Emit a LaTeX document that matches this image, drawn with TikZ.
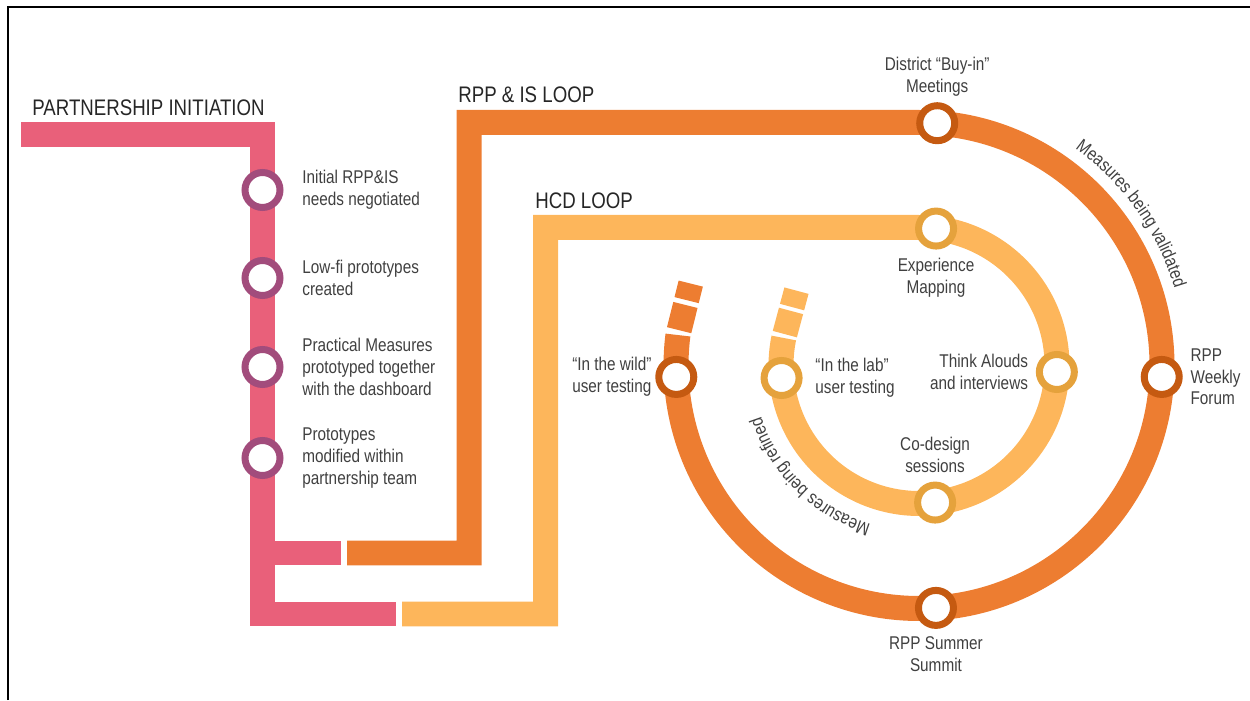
\documentclass[tikz,border=0pt]{standalone}
\usepackage{fontspec}
\setmainfont{Liberation Sans}[FakeStretch=0.83]
\usetikzlibrary{positioning,decorations.text}

\definecolor{piline}{HTML}{E9607A}
\definecolor{pistop}{HTML}{A24C7C}
\definecolor{rppline}{HTML}{ED7D31}
\definecolor{rppstop}{HTML}{C55A11}
\definecolor{hcdline}{HTML}{FDB65B}
\definecolor{hcdstop}{HTML}{E5A23C}
\definecolor{txt}{HTML}{404040}

\newcommand{\lblfont}{\fontsize{10.5}{12.4}\selectfont}
\newcommand{\ttlfont}{\fontsize{12.8}{15}\selectfont}

\tikzset{
  track/.style={line width=0.5cm, line join=miter},
  station/.style={circle, draw=#1, fill=white, line width=0.14cm,
    minimum size=0.7cm, inner sep=0pt},
  lbl/.style={font=\lblfont, text=txt, inner sep=2pt},
  ttl/.style={font=\ttlfont, text=black!85, inner sep=0pt, anchor=base west},
}

\begin{document}
\begin{tikzpicture}[x=0.02cm, y=0.02cm]
    \useasboundingbox (0,0) rectangle (1250,700);
    \draw[line width=0.04cm] (8,0) -- (8,693) -- (1250,693);
    \coordinate (c) at (919,334.5);
    % the three lines
    \draw[track, piline] (21,565) -- (262.5,565) -- (262.5,86) -- (396,86);
    \draw[track, piline] (262.5,147) -- (341,147);
    \draw[track, rppline] (347,147) -- (469,147) -- (469,577.5) -- (919,577.5)
      arc[start angle=90, end angle=-187.2, radius=243];
    \draw[track, rppline] (c) ++(172.8:243) ++(76:5) -- ++(76:26);
    \draw[track, rppline] (c) ++(172.8:243) ++(76:36) -- ++(76:17);
    \draw[track, hcdline] (402,86) -- (545.5,86) -- (545.5,472.5) -- (919,472.5)
      arc[start angle=90, end angle=-191.5, radius=138];
    \draw[track, hcdline] (c) ++(168.5:138) ++(75:4) -- ++(75:24);
    \draw[track, hcdline] (c) ++(168.5:138) ++(75:32) -- ++(75:17);
    % stations
    \node[station=pistop] (ini) at (262.5,510) {};
    \node[station=pistop] (lowfi) at (262.5,422) {};
    \node[station=pistop] (pm) at (262.5,333) {};
    \node[station=pistop] (mod) at (262.5,242) {};
    \path (c) ++(85.7:243) node[station=rppstop] (dist) {};
    \path (c) ++(-2.7:243) node[station=rppstop] (wkly) {};
    \path (c) ++(-86:243) node[station=rppstop] (summ) {};
    \path (c) ++(182.7:243) node[station=rppstop] (wild) {};
    \path (c) ++(82.9:138) node[station=hcdstop] (exp) {};
    \path (c) ++(-2.7:138) node[station=hcdstop] (think) {};
    \path (c) ++(-83.3:138) node[station=hcdstop] (codes) {};
    \path (c) ++(185.2:138) node[station=hcdstop] (lab) {};
    % labels
    \node[lbl, right=0.3cm of ini, align=left] {Initial RPP\&IS\\needs negotiated};
    \node[lbl, right=0.3cm of lowfi, align=left] {Low-fi prototypes\\created};
    \node[lbl, right=0.3cm of pm, align=left] {Practical Measures\\prototyped together\\with the dashboard};
    \node[lbl, right=0.3cm of mod, align=left] {Prototypes\\modified within\\partnership team};
    \node[lbl, above=0.05cm of dist, align=center] {District “Buy-in”\\Meetings};
    \node[lbl, right=0.08cm of wkly, align=left] {RPP\\Weekly\\Forum};
    \node[lbl, below=0.08cm of summ, align=center] {RPP Summer\\Summit};
    \node[lbl, left=0cm of wild, align=left] {“In the wild”\\user testing};
    \node[lbl, below=0.1cm of exp, align=center] {Experience\\Mapping};
    \node[lbl, left=0.08cm of think, align=right] {Think Alouds\\and interviews};
    \node[lbl, above=0.1cm of codes, align=center] {Co-design\\sessions};
    \node[lbl, right=0.18cm of lab, align=left] {“In the lab”\\user testing};
    \path[decorate, decoration={text along path, text align=center, text color=txt,
      text={|\lblfont|Measures being validated}}]
      (c) ++(56:267) arc[start angle=56, end angle=15, radius=267];
    \path[decorate, decoration={text along path, text align=center, text color=txt,
      text={|\lblfont|Measures being refined}}]
      (c) ++(-104:166) arc[start angle=-104, end angle=-165, radius=166];
    % titles
    \node[ttl] at (32,584) {PARTNERSHIP INITIATION};
    \node[ttl] at (458,597) {RPP \& IS LOOP};
    \node[ttl] at (535,491) {HCD LOOP};
\end{tikzpicture}
\end{document}
